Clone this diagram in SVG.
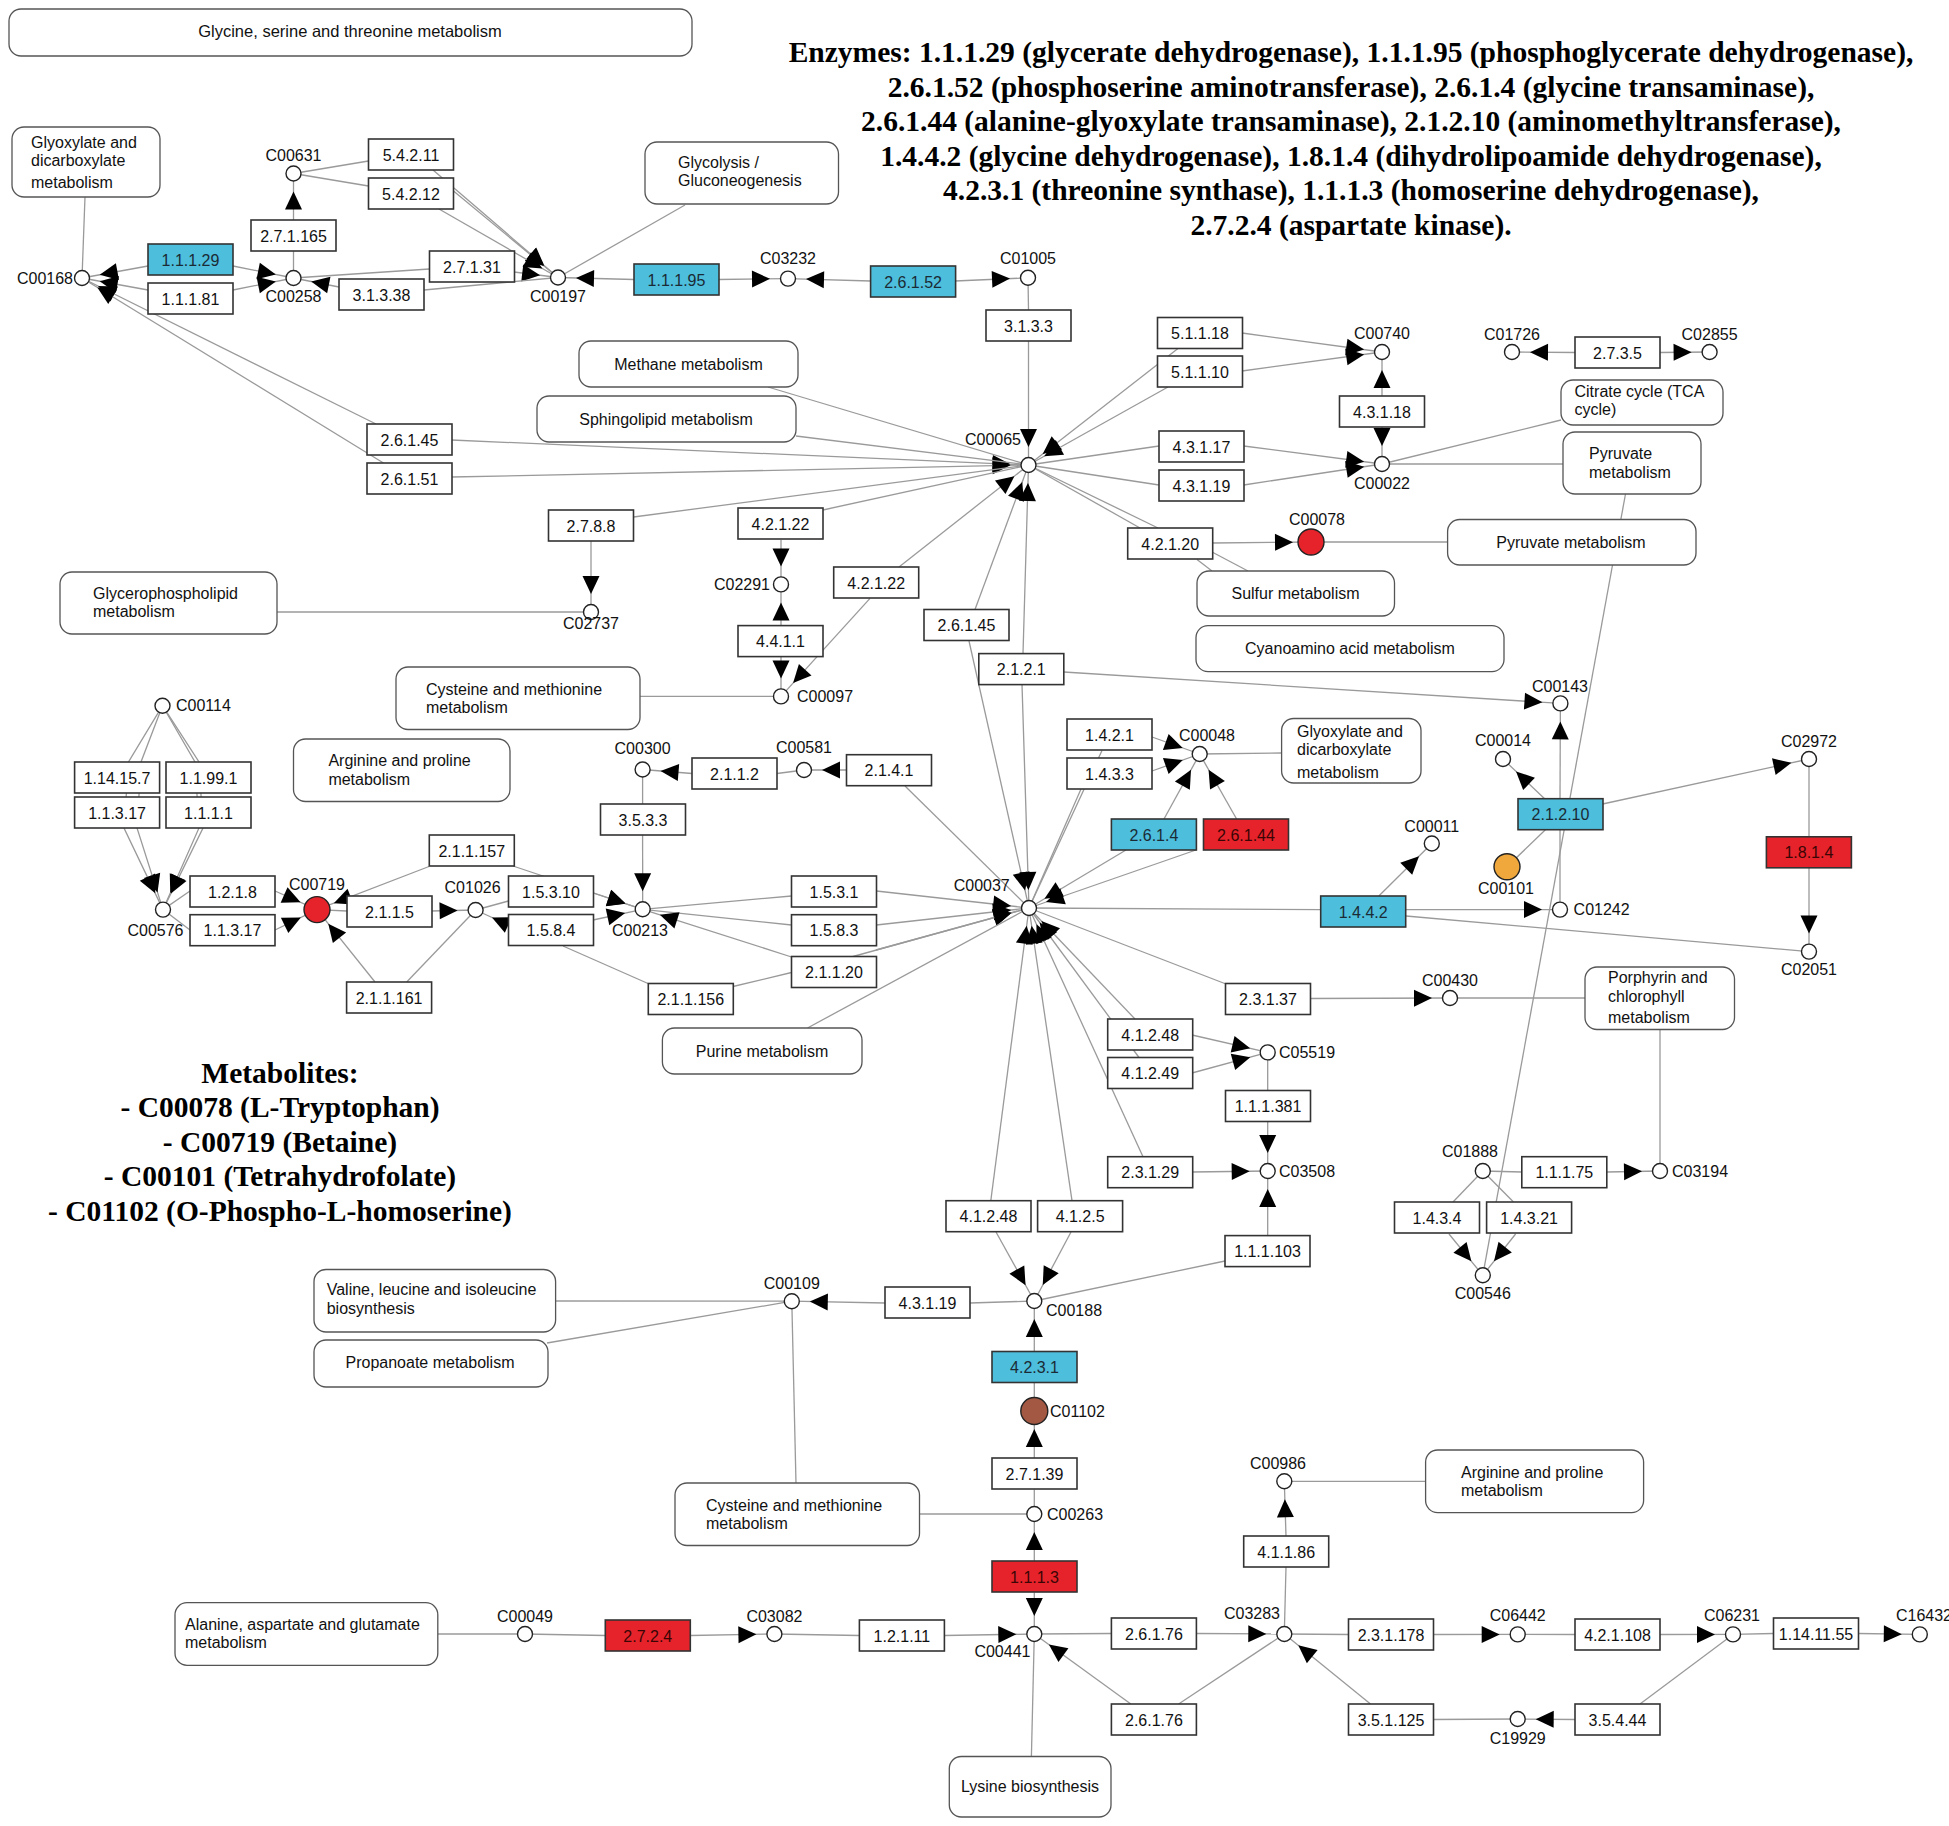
<svg xmlns="http://www.w3.org/2000/svg" width="1949" height="1826" viewBox="0 0 1949 1826">
<defs>
<style>
.e rect{fill:#fff;stroke:#333;stroke-width:1.6}
.e.b rect{fill:#4dbedc}
.e.r rect{fill:#e6232a}
.e text{text-anchor:middle}
.e.b text{fill:#1b2b35}
.e.r text{fill:#3a0505}
text{font-family:"Liberation Sans",Arial,sans-serif;font-size:16px;fill:#111}
.cp circle{fill:#fff;stroke:#222;stroke-width:1.4}
.m rect{fill:#fff;stroke:#555;stroke-width:1.3}
.mid{text-anchor:middle}
.end{text-anchor:end}
.c{stroke:#9a9a9a;stroke-width:1.3;fill:none}
.a{marker-end:url(#ah)}
.hd text{font-family:"Liberation Serif","Times New Roman",serif;font-weight:bold;font-size:29.5px;fill:#000;text-anchor:middle}
</style>
<marker id="ah" viewBox="-20 -10 40 20" refX="18" refY="0" markerWidth="40" markerHeight="20" orient="auto" markerUnits="userSpaceOnUse"><path d="M0,0 L-18,-8.5 L-18,8.5 Z" fill="#000"/></marker>
</defs>
<rect x="0" y="0" width="1949" height="1826" fill="#fff"/>

<g id="connectors">
<line class="c" x1="85" y1="197" x2="82" y2="278"/>
<line class="c a" x1="148" y1="266" x2="82" y2="278"/>
<line class="c a" x1="148" y1="290" x2="82" y2="278"/>
<line class="c a" x1="233" y1="266" x2="293.5" y2="278"/>
<line class="c a" x1="233" y1="290" x2="293.5" y2="278"/>
<line class="c a" x1="376" y1="424" x2="82" y2="278"/>
<line class="c a" x1="383.5" y1="463" x2="82" y2="278"/>
<line class="c a" x1="451.5" y1="440" x2="1028.5" y2="465"/>
<line class="c a" x1="451.5" y1="477" x2="1028.5" y2="465"/>
<line class="c" x1="293.5" y1="278" x2="293.5" y2="251"/>
<line class="c a" x1="293.5" y1="220" x2="293.5" y2="173.5"/>
<line class="c" x1="293.5" y1="173.5" x2="368.5" y2="161"/>
<line class="c" x1="293.5" y1="173.5" x2="368.5" y2="186"/>
<line class="c a" x1="433" y1="170" x2="558" y2="277.5"/>
<line class="c a" x1="453.5" y1="191" x2="558" y2="277.5"/>
<line class="c a" x1="439" y1="209" x2="558" y2="277.5"/>
<line class="c" x1="293.5" y1="278" x2="429.5" y2="269"/>
<line class="c a" x1="514" y1="272" x2="558" y2="277.5"/>
<line class="c" x1="558" y1="277.5" x2="424" y2="290"/>
<line class="c a" x1="339" y1="287" x2="293.5" y2="278"/>
<line class="c" x1="685" y1="205" x2="558" y2="277.5"/>
<line class="c a" x1="634" y1="279.5" x2="558" y2="277.5"/>
<line class="c a" x1="718.5" y1="279.5" x2="788" y2="278.6"/>
<line class="c a" x1="870.6" y1="281" x2="788" y2="278.6"/>
<line class="c a" x1="955" y1="281" x2="1028" y2="277.8"/>
<line class="c" x1="1028" y1="277.8" x2="1028.5" y2="310"/>
<line class="c a" x1="1028.5" y1="341" x2="1028.5" y2="465"/>
<line class="c" x1="768" y1="387" x2="1028.5" y2="465"/>
<line class="c" x1="796" y1="436" x2="1028.5" y2="465"/>
<line class="c a" x1="1178" y1="348.5" x2="1028.5" y2="465"/>
<line class="c a" x1="1168" y1="387" x2="1028.5" y2="465"/>
<line class="c a" x1="1242" y1="333" x2="1382" y2="352"/>
<line class="c a" x1="1242" y1="371" x2="1382" y2="352"/>
<line class="c" x1="1028.5" y1="465" x2="1159" y2="446"/>
<line class="c" x1="1028.5" y1="465" x2="1159" y2="485"/>
<line class="c a" x1="1243.7" y1="446" x2="1382" y2="464"/>
<line class="c a" x1="1243.7" y1="485" x2="1382" y2="464"/>
<line class="c a" x1="1382" y1="396" x2="1382" y2="352"/>
<line class="c a" x1="1382" y1="427" x2="1382" y2="464"/>
<line class="c a" x1="1575" y1="352.5" x2="1512" y2="352"/>
<line class="c a" x1="1660" y1="352.5" x2="1709.6" y2="352"/>
<line class="c" x1="1382" y1="464" x2="1561" y2="420"/>
<line class="c" x1="1382" y1="464" x2="1563" y2="464"/>
<line class="c" x1="1625.5" y1="494" x2="1482.8" y2="1275.3"/>
<line class="c" x1="1028.5" y1="465" x2="1140" y2="528"/>
<line class="c" x1="1028.5" y1="465" x2="1158" y2="528"/>
<line class="c a" x1="1212.6" y1="543" x2="1311" y2="542"/>
<line class="c" x1="1311" y1="542" x2="1447.6" y2="542"/>
<line class="c" x1="1197" y1="559.5" x2="1212" y2="571"/>
<line class="c" x1="1212" y1="552" x2="1248" y2="571"/>
<line class="c" x1="633.5" y1="517" x2="1028.5" y2="465"/>
<line class="c a" x1="591" y1="541" x2="591" y2="612"/>
<line class="c" x1="277" y1="612" x2="591" y2="612"/>
<line class="c" x1="823" y1="510" x2="1028.5" y2="465"/>
<line class="c a" x1="781" y1="539.7" x2="781" y2="584.4"/>
<line class="c a" x1="781" y1="625.6" x2="781" y2="584.4"/>
<line class="c a" x1="781" y1="656.7" x2="781" y2="696.4"/>
<line class="c a" x1="899" y1="567" x2="1028.5" y2="465"/>
<line class="c a" x1="870" y1="598.4" x2="781" y2="696.4"/>
<line class="c" x1="781" y1="696.4" x2="640" y2="696.4"/>
<line class="c a" x1="975" y1="609.5" x2="1028.5" y2="465"/>
<line class="c a" x1="969" y1="641" x2="1029" y2="908"/>
<line class="c a" x1="1023" y1="653.6" x2="1028.5" y2="465"/>
<line class="c a" x1="1022" y1="684.7" x2="1029" y2="908"/>
<line class="c a" x1="1063.8" y1="672" x2="1560.4" y2="703.4"/>
<path class="c a" d="M162.5,705.7 L128.5,762 L124,828 L163,909.6"/>
<path class="c a" d="M162.5,705.7 L141,762 L137,828 L163,909.6"/>
<path class="c a" d="M162.5,705.7 L195,762 L199,828 L163,909.6"/>
<path class="c a" d="M162.5,705.7 L199,762 L203,828 L163,909.6"/>
<line class="c" x1="163" y1="909.6" x2="190" y2="891"/>
<line class="c" x1="163" y1="909.6" x2="190" y2="930"/>
<line class="c a" x1="275" y1="891" x2="317" y2="909.6"/>
<line class="c a" x1="275" y1="930" x2="317" y2="909.6"/>
<line class="c" x1="317" y1="909.6" x2="347" y2="911"/>
<line class="c a" x1="431" y1="911" x2="475.6" y2="910"/>
<line class="c" x1="475.6" y1="910" x2="406.7" y2="982"/>
<line class="c a" x1="375" y1="982" x2="317" y2="909.6"/>
<line class="c a" x1="429" y1="866.5" x2="317" y2="909.6"/>
<line class="c a" x1="513" y1="866" x2="642.7" y2="909.3"/>
<line class="c" x1="475.6" y1="910" x2="508.5" y2="901"/>
<line class="c a" x1="593" y1="893" x2="642.7" y2="909.3"/>
<line class="c a" x1="508.5" y1="925" x2="475.6" y2="910"/>
<line class="c a" x1="593" y1="920" x2="642.7" y2="909.3"/>
<line class="c" x1="563" y1="946" x2="648" y2="983.5"/>
<line class="c" x1="733" y1="986.5" x2="791.5" y2="972.5"/>
<line class="c" x1="642.6" y1="769.5" x2="642.6" y2="804.6"/>
<line class="c a" x1="642.6" y1="835" x2="642.7" y2="909.3"/>
<line class="c a" x1="692" y1="773.5" x2="642.6" y2="769.5"/>
<line class="c" x1="804" y1="770" x2="777" y2="773.5"/>
<line class="c a" x1="846.5" y1="770" x2="804" y2="770"/>
<line class="c" x1="905" y1="786" x2="1029" y2="908"/>
<line class="c" x1="791.5" y1="896" x2="642.7" y2="909.3"/>
<line class="c a" x1="876.4" y1="891" x2="1029" y2="908"/>
<line class="c" x1="791.5" y1="925" x2="642.7" y2="909.3"/>
<line class="c a" x1="876.4" y1="925" x2="1029" y2="908"/>
<line class="c a" x1="791.5" y1="957" x2="642.7" y2="909.3"/>
<line class="c a" x1="853" y1="956.5" x2="1029" y2="908"/>
<line class="c a" x1="876" y1="950" x2="1029" y2="908"/>
<line class="c" x1="807.5" y1="1028" x2="1029" y2="908"/>
<line class="c" x1="1081" y1="789" x2="1029" y2="908"/>
<line class="c" x1="1102" y1="750.5" x2="1029" y2="908"/>
<line class="c a" x1="1152" y1="737" x2="1199.7" y2="754"/>
<line class="c a" x1="1152" y1="771" x2="1199.7" y2="754"/>
<line class="c a" x1="1126" y1="850" x2="1029" y2="908"/>
<line class="c a" x1="1164" y1="819" x2="1199.7" y2="754"/>
<line class="c a" x1="1196" y1="850" x2="1029" y2="908"/>
<line class="c a" x1="1236.6" y1="819" x2="1199.7" y2="754"/>
<line class="c" x1="1199.7" y1="754" x2="1281.6" y2="753"/>
<line class="c" x1="1029" y1="908" x2="1320.7" y2="909.6"/>
<line class="c a" x1="1406" y1="909.6" x2="1560" y2="909.6"/>
<line class="c a" x1="1378.8" y1="896" x2="1431.8" y2="843.5"/>
<line class="c" x1="1406" y1="916" x2="1809" y2="951.6"/>
<line class="c" x1="1560" y1="909.6" x2="1560" y2="829.8"/>
<line class="c a" x1="1560" y1="798.7" x2="1560.4" y2="703.4"/>
<line class="c a" x1="1544.6" y1="798.7" x2="1503" y2="759"/>
<line class="c" x1="1507" y1="866.8" x2="1545.4" y2="829.8"/>
<line class="c a" x1="1602.6" y1="804" x2="1809" y2="759"/>
<line class="c" x1="1809" y1="759" x2="1809" y2="836.8"/>
<line class="c a" x1="1809" y1="868" x2="1809" y2="951.6"/>
<line class="c" x1="1029" y1="908" x2="1226" y2="984"/>
<line class="c a" x1="1310" y1="998.5" x2="1450" y2="998"/>
<line class="c" x1="1450" y1="998" x2="1585" y2="998"/>
<line class="c" x1="1660" y1="1029.5" x2="1660" y2="1171"/>
<line class="c a" x1="1135" y1="1019" x2="1029" y2="908"/>
<line class="c a" x1="1139" y1="1057.5" x2="1029" y2="908"/>
<line class="c a" x1="1192" y1="1035" x2="1267.7" y2="1052.4"/>
<line class="c a" x1="1192" y1="1073" x2="1267.7" y2="1052.4"/>
<line class="c" x1="1267.7" y1="1052.4" x2="1267.7" y2="1090.5"/>
<line class="c a" x1="1267.7" y1="1121.3" x2="1267.7" y2="1171"/>
<line class="c a" x1="1143" y1="1156.7" x2="1029" y2="908"/>
<line class="c a" x1="1192" y1="1172" x2="1267.7" y2="1171"/>
<line class="c a" x1="1267.7" y1="1235.6" x2="1267.7" y2="1171"/>
<line class="c" x1="1225" y1="1261" x2="1034.3" y2="1301"/>
<line class="c a" x1="990.8" y1="1200.7" x2="1029" y2="908"/>
<line class="c a" x1="1072" y1="1200.7" x2="1029" y2="908"/>
<line class="c a" x1="996" y1="1232" x2="1034.3" y2="1301"/>
<line class="c a" x1="1071" y1="1232" x2="1034.3" y2="1301"/>
<line class="c" x1="1034.3" y1="1301" x2="970" y2="1303"/>
<line class="c a" x1="885" y1="1303" x2="791.8" y2="1301.2"/>
<line class="c" x1="791.8" y1="1301.2" x2="555.6" y2="1301"/>
<line class="c" x1="791.8" y1="1301.2" x2="547" y2="1343"/>
<line class="c" x1="791.8" y1="1301.2" x2="796" y2="1483"/>
<line class="c a" x1="1034.3" y1="1351.5" x2="1034.3" y2="1301"/>
<line class="c" x1="1034.3" y1="1411" x2="1034.3" y2="1382.5"/>
<line class="c a" x1="1034.3" y1="1458" x2="1034.3" y2="1411"/>
<line class="c" x1="1034.3" y1="1514" x2="1034.3" y2="1489.5"/>
<line class="c" x1="1034.3" y1="1514" x2="919.5" y2="1514"/>
<line class="c a" x1="1034.3" y1="1561" x2="1034.3" y2="1514"/>
<line class="c a" x1="1034.3" y1="1592.5" x2="1034.3" y2="1634"/>
<line class="c" x1="525" y1="1634" x2="437.8" y2="1634"/>
<line class="c" x1="525" y1="1634" x2="605.3" y2="1635.5"/>
<line class="c a" x1="690.6" y1="1635.5" x2="774.4" y2="1634"/>
<line class="c" x1="774.4" y1="1634" x2="859.4" y2="1635.5"/>
<line class="c a" x1="944.4" y1="1635.5" x2="1034.3" y2="1634"/>
<line class="c" x1="1034.3" y1="1634" x2="1111.4" y2="1633.5"/>
<line class="c a" x1="1196.4" y1="1633.5" x2="1284.3" y2="1634"/>
<line class="c" x1="1284.3" y1="1634" x2="1178.6" y2="1704"/>
<line class="c a" x1="1130.8" y1="1704" x2="1034.3" y2="1634"/>
<line class="c" x1="1034.3" y1="1634" x2="1031.4" y2="1756.5"/>
<line class="c" x1="1284.3" y1="1634" x2="1286" y2="1567"/>
<line class="c a" x1="1286" y1="1536" x2="1284.3" y2="1481.3"/>
<line class="c" x1="1284.3" y1="1481.3" x2="1425.6" y2="1481.3"/>
<line class="c" x1="1284.3" y1="1634" x2="1348.5" y2="1634.5"/>
<line class="c a" x1="1433.5" y1="1634.5" x2="1517.7" y2="1634.4"/>
<line class="c" x1="1517.7" y1="1634.4" x2="1575" y2="1634.5"/>
<line class="c a" x1="1660" y1="1634.5" x2="1733" y2="1634.4"/>
<line class="c" x1="1733" y1="1634.4" x2="1773.5" y2="1633.5"/>
<line class="c a" x1="1858.5" y1="1633.5" x2="1919.8" y2="1634.4"/>
<line class="c" x1="1733" y1="1634.4" x2="1640" y2="1704"/>
<line class="c a" x1="1575" y1="1719.5" x2="1517.7" y2="1719"/>
<line class="c" x1="1517.7" y1="1719" x2="1433.5" y2="1719.5"/>
<line class="c a" x1="1370.5" y1="1704" x2="1284.3" y2="1634"/>
<line class="c" x1="1482.8" y1="1171" x2="1521.8" y2="1172"/>
<line class="c a" x1="1606.8" y1="1172" x2="1660" y2="1171"/>
<line class="c" x1="1482.8" y1="1171" x2="1453" y2="1202"/>
<line class="c" x1="1482.8" y1="1171" x2="1513.5" y2="1202"/>
<line class="c a" x1="1449" y1="1234" x2="1482.8" y2="1275.3"/>
<line class="c a" x1="1515.6" y1="1234" x2="1482.8" y2="1275.3"/>
</g>

<g id="maps">
<g id="M_glycine" class="m"><rect x="9" y="9" width="683" height="47" rx="12"/><text class="mid" x="350" y="36.5" style="font-size:16.5px">Glycine, serine and threonine metabolism</text></g>
<g id="M_glyoxylate1" class="m"><rect x="12" y="127" width="148" height="70" rx="12"/><text x="31" y="147.5">Glyoxylate and</text><text x="31" y="166">dicarboxylate</text><text x="31" y="187.5">metabolism</text></g>
<g id="M_glycolysis" class="m"><rect x="645" y="142" width="193.5" height="62" rx="12"/><text x="678" y="167.5">Glycolysis /</text><text x="678" y="185.5">Gluconeogenesis</text></g>
<g id="M_methane" class="m"><rect x="579" y="341" width="219" height="46" rx="12"/><text class="mid" x="688.5" y="369.5">Methane metabolism</text></g>
<g id="M_sphingolipid" class="m"><rect x="537" y="396" width="259" height="46" rx="12"/><text class="mid" x="666" y="424.5">Sphingolipid metabolism</text></g>
<g id="M_citrate" class="m"><rect x="1561" y="380" width="162" height="45" rx="12"/><text x="1574.5" y="397">Citrate cycle (TCA</text><text x="1574.5" y="415">cycle)</text></g>
<g id="M_pyruvate1" class="m"><rect x="1563" y="432" width="138" height="62" rx="12"/><text x="1589" y="459">Pyruvate</text><text x="1589" y="477.5">metabolism</text></g>
<g id="M_pyruvate2" class="m"><rect x="1447.6" y="519.5" width="248.4" height="45.5" rx="12"/><text class="mid" x="1571" y="547.5">Pyruvate metabolism</text></g>
<g id="M_glycerophospholipid" class="m"><rect x="60" y="572" width="217" height="62" rx="12"/><text x="93" y="598.5">Glycerophospholipid</text><text x="93" y="617">metabolism</text></g>
<g id="M_sulfur" class="m"><rect x="1197" y="571" width="197.5" height="45" rx="12"/><text class="mid" x="1295.5" y="598.5">Sulfur metabolism</text></g>
<g id="M_cyanoamino" class="m"><rect x="1196" y="625.6" width="308" height="46" rx="12"/><text class="mid" x="1350" y="653.5">Cyanoamino acid metabolism</text></g>
<g id="M_cysteine1" class="m"><rect x="396" y="667" width="244" height="62.5" rx="12"/><text x="426" y="694.5">Cysteine and methionine</text><text x="426" y="712.5">metabolism</text></g>
<g id="M_arginine1" class="m"><rect x="293.5" y="739" width="216.5" height="62.5" rx="12"/><text x="328.4" y="766">Arginine and proline</text><text x="328.4" y="784.5">metabolism</text></g>
<g id="M_glyoxylate2" class="m"><rect x="1281.6" y="718.5" width="139.4" height="64.5" rx="12"/><text x="1297" y="736.5">Glyoxylate and</text><text x="1297" y="755">dicarboxylate</text><text x="1297" y="777.5">metabolism</text></g>
<g id="M_purine" class="m"><rect x="662.4" y="1028" width="199.6" height="46" rx="12"/><text class="mid" x="762" y="1056.5">Purine metabolism</text></g>
<g id="M_porphyrin" class="m"><rect x="1585" y="967" width="149.5" height="62.5" rx="12"/><text x="1608" y="983">Porphyrin and</text><text x="1608" y="1002">chlorophyll</text><text x="1608" y="1023">metabolism</text></g>
<g id="M_valine" class="m"><rect x="314" y="1269.5" width="241.6" height="62.5" rx="12"/><text x="326.7" y="1295">Valine, leucine and isoleucine</text><text x="326.7" y="1313.5">biosynthesis</text></g>
<g id="M_propanoate" class="m"><rect x="314" y="1340" width="234" height="47" rx="12"/><text class="mid" x="430" y="1367.5">Propanoate metabolism</text></g>
<g id="M_cysteine2" class="m"><rect x="675" y="1483" width="244.5" height="62.5" rx="12"/><text x="706" y="1510.5">Cysteine and methionine</text><text x="706" y="1529">metabolism</text></g>
<g id="M_arginine2" class="m"><rect x="1425.6" y="1450" width="218" height="62.6" rx="12"/><text x="1461" y="1477.5">Arginine and proline</text><text x="1461" y="1495.5">metabolism</text></g>
<g id="M_alanine" class="m"><rect x="175" y="1602.7" width="262.8" height="62.6" rx="12"/><text x="185" y="1629.5">Alanine, aspartate and glutamate</text><text x="185" y="1647.5">metabolism</text></g>
<g id="M_lysine" class="m"><rect x="949.3" y="1756.5" width="161.7" height="60.5" rx="12"/><text class="mid" x="1030" y="1792">Lysine biosynthesis</text></g>
</g>

<g id="enzymes">
<g id="E_1.1.1.29" class="e b"><rect x="148" y="244" width="85" height="31"/><text x="190.5" y="265.5">1.1.1.29</text></g>
<g id="E_1.1.1.81" class="e"><rect x="148" y="283" width="85" height="31"/><text x="190.5" y="304.5">1.1.1.81</text></g>
<g id="E_2.7.1.165" class="e"><rect x="251" y="220" width="85" height="31"/><text x="293.5" y="241.5">2.7.1.165</text></g>
<g id="E_5.4.2.11" class="e"><rect x="368.5" y="139" width="85" height="31"/><text x="411" y="160.5">5.4.2.11</text></g>
<g id="E_5.4.2.12" class="e"><rect x="368.5" y="178" width="85" height="31"/><text x="411" y="199.5">5.4.2.12</text></g>
<g id="E_2.7.1.31" class="e"><rect x="429.5" y="251" width="85" height="31"/><text x="472" y="272.5">2.7.1.31</text></g>
<g id="E_3.1.3.38" class="e"><rect x="339" y="279" width="85" height="31"/><text x="381.5" y="300.5">3.1.3.38</text></g>
<g id="E_1.1.1.95" class="e b"><rect x="634" y="264" width="85" height="31"/><text x="676.5" y="285.5">1.1.1.95</text></g>
<g id="E_2.6.1.52" class="e b"><rect x="870.6" y="266" width="85" height="31"/><text x="913.1" y="287.5">2.6.1.52</text></g>
<g id="E_3.1.3.3" class="e"><rect x="986" y="310" width="85" height="31"/><text x="1028.5" y="331.5">3.1.3.3</text></g>
<g id="E_5.1.1.18" class="e"><rect x="1157.5" y="317.5" width="85" height="31"/><text x="1200" y="339">5.1.1.18</text></g>
<g id="E_5.1.1.10" class="e"><rect x="1157.5" y="356" width="85" height="31"/><text x="1200" y="377.5">5.1.1.10</text></g>
<g id="E_4.3.1.18" class="e"><rect x="1339.5" y="396" width="85" height="31"/><text x="1382" y="417.5">4.3.1.18</text></g>
<g id="E_2.7.3.5" class="e"><rect x="1575" y="337" width="85" height="31"/><text x="1617.5" y="358.5">2.7.3.5</text></g>
<g id="E_2.6.1.45" class="e"><rect x="367" y="424" width="85" height="31"/><text x="409.5" y="445.5">2.6.1.45</text></g>
<g id="E_2.6.1.51" class="e"><rect x="367" y="463" width="85" height="31"/><text x="409.5" y="484.5">2.6.1.51</text></g>
<g id="E_4.3.1.17" class="e"><rect x="1159" y="431" width="85" height="31"/><text x="1201.5" y="452.5">4.3.1.17</text></g>
<g id="E_4.3.1.19" class="e"><rect x="1159" y="470" width="85" height="31"/><text x="1201.5" y="491.5">4.3.1.19</text></g>
<g id="E_2.7.8.8" class="e"><rect x="548.5" y="510" width="85" height="31"/><text x="591" y="531.5">2.7.8.8</text></g>
<g id="E_4.2.1.22" class="e"><rect x="738" y="508" width="85" height="31"/><text x="780.5" y="529.5">4.2.1.22</text></g>
<g id="E_4.2.1.22b" class="e"><rect x="833.7" y="567" width="85" height="31"/><text x="876.2" y="588.5">4.2.1.22</text></g>
<g id="E_4.2.1.20" class="e"><rect x="1127.7" y="528" width="85" height="31"/><text x="1170.2" y="549.5">4.2.1.20</text></g>
<g id="E_4.4.1.1" class="e"><rect x="738" y="625.6" width="85" height="31"/><text x="780.5" y="647.1">4.4.1.1</text></g>
<g id="E_2.6.1.45b" class="e"><rect x="924" y="609.5" width="85" height="31"/><text x="966.5" y="631">2.6.1.45</text></g>
<g id="E_2.1.2.1" class="e"><rect x="978.8" y="653.6" width="85" height="31"/><text x="1021.3" y="675.1">2.1.2.1</text></g>
<g id="E_1.14.15.7" class="e"><rect x="74.6" y="762" width="85" height="31"/><text x="117.1" y="783.5">1.14.15.7</text></g>
<g id="E_1.1.99.1" class="e"><rect x="166" y="762" width="85" height="31"/><text x="208.5" y="783.5">1.1.99.1</text></g>
<g id="E_1.1.3.17" class="e"><rect x="74.6" y="797" width="85" height="31"/><text x="117.1" y="818.5">1.1.3.17</text></g>
<g id="E_1.1.1.1" class="e"><rect x="166" y="797" width="85" height="31"/><text x="208.5" y="818.5">1.1.1.1</text></g>
<g id="E_2.1.1.2" class="e"><rect x="692" y="758" width="85" height="31"/><text x="734.5" y="779.5">2.1.1.2</text></g>
<g id="E_2.1.4.1" class="e"><rect x="846.5" y="754.7" width="85" height="31"/><text x="889" y="776.2">2.1.4.1</text></g>
<g id="E_3.5.3.3" class="e"><rect x="600.5" y="804" width="85" height="31"/><text x="643" y="825.5">3.5.3.3</text></g>
<g id="E_1.4.2.1" class="e"><rect x="1067" y="719" width="85" height="31"/><text x="1109.5" y="740.5">1.4.2.1</text></g>
<g id="E_1.4.3.3" class="e"><rect x="1067" y="758" width="85" height="31"/><text x="1109.5" y="779.5">1.4.3.3</text></g>
<g id="E_2.6.1.4" class="e b"><rect x="1111.4" y="819" width="85" height="31"/><text x="1153.9" y="840.5">2.6.1.4</text></g>
<g id="E_2.6.1.44" class="e r"><rect x="1203.5" y="819" width="85" height="31"/><text x="1246" y="840.5">2.6.1.44</text></g>
<g id="E_2.1.2.10" class="e b"><rect x="1518" y="798.7" width="85" height="31"/><text x="1560.5" y="820.2">2.1.2.10</text></g>
<g id="E_1.8.1.4" class="e r"><rect x="1766.4" y="836.8" width="85" height="31"/><text x="1808.9" y="858.3">1.8.1.4</text></g>
<g id="E_1.2.1.8" class="e"><rect x="190" y="876" width="85" height="31"/><text x="232.5" y="897.5">1.2.1.8</text></g>
<g id="E_1.1.3.17b" class="e"><rect x="190" y="914.7" width="85" height="31"/><text x="232.5" y="936.2">1.1.3.17</text></g>
<g id="E_2.1.1.157" class="e"><rect x="429.3" y="835" width="85" height="31"/><text x="471.8" y="856.5">2.1.1.157</text></g>
<g id="E_2.1.1.5" class="e"><rect x="347" y="896" width="85" height="31"/><text x="389.5" y="917.5">2.1.1.5</text></g>
<g id="E_2.1.1.161" class="e"><rect x="346.6" y="982" width="85" height="31"/><text x="389.1" y="1003.5">2.1.1.161</text></g>
<g id="E_1.5.3.10" class="e"><rect x="508.5" y="876" width="85" height="31"/><text x="551" y="897.5">1.5.3.10</text></g>
<g id="E_1.5.8.4" class="e"><rect x="508.5" y="914.5" width="85" height="31"/><text x="551" y="936">1.5.8.4</text></g>
<g id="E_1.5.3.1" class="e"><rect x="791.5" y="876" width="85" height="31"/><text x="834" y="897.5">1.5.3.1</text></g>
<g id="E_1.5.8.3" class="e"><rect x="791.5" y="914.7" width="85" height="31"/><text x="834" y="936.2">1.5.8.3</text></g>
<g id="E_2.1.1.20" class="e"><rect x="791.5" y="956.5" width="85" height="31"/><text x="834" y="978">2.1.1.20</text></g>
<g id="E_2.1.1.156" class="e"><rect x="648.3" y="983.5" width="85" height="31"/><text x="690.8" y="1005">2.1.1.156</text></g>
<g id="E_1.4.4.2" class="e b"><rect x="1320.7" y="896" width="85" height="31"/><text x="1363.2" y="917.5">1.4.4.2</text></g>
<g id="E_2.3.1.37" class="e"><rect x="1225.5" y="983.5" width="85" height="31"/><text x="1268" y="1005">2.3.1.37</text></g>
<g id="E_4.1.2.48" class="e"><rect x="1107.7" y="1019" width="85" height="31"/><text x="1150.2" y="1040.5">4.1.2.48</text></g>
<g id="E_4.1.2.49" class="e"><rect x="1107.7" y="1057.5" width="85" height="31"/><text x="1150.2" y="1079">4.1.2.49</text></g>
<g id="E_1.1.1.381" class="e"><rect x="1225.5" y="1090.5" width="85" height="31"/><text x="1268" y="1112">1.1.1.381</text></g>
<g id="E_2.3.1.29" class="e"><rect x="1107.7" y="1156.7" width="85" height="31"/><text x="1150.2" y="1178.2">2.3.1.29</text></g>
<g id="E_1.1.1.75" class="e"><rect x="1521.8" y="1156.7" width="85" height="31"/><text x="1564.3" y="1178.2">1.1.1.75</text></g>
<g id="E_1.4.3.4" class="e"><rect x="1394.5" y="1202" width="85" height="31"/><text x="1437" y="1223.5">1.4.3.4</text></g>
<g id="E_1.4.3.21" class="e"><rect x="1486.6" y="1202" width="85" height="31"/><text x="1529.1" y="1223.5">1.4.3.21</text></g>
<g id="E_4.1.2.48b" class="e"><rect x="946" y="1200.7" width="85" height="31"/><text x="988.5" y="1222.2">4.1.2.48</text></g>
<g id="E_4.1.2.5" class="e"><rect x="1037.6" y="1200.7" width="85" height="31"/><text x="1080.1" y="1222.2">4.1.2.5</text></g>
<g id="E_1.1.1.103" class="e"><rect x="1225" y="1235.6" width="85" height="31"/><text x="1267.5" y="1257.1">1.1.1.103</text></g>
<g id="E_4.3.1.19b" class="e"><rect x="885" y="1287" width="85" height="31"/><text x="927.5" y="1308.5">4.3.1.19</text></g>
<g id="E_4.2.3.1" class="e b"><rect x="992" y="1351.5" width="85" height="31"/><text x="1034.5" y="1373">4.2.3.1</text></g>
<g id="E_2.7.1.39" class="e"><rect x="992" y="1458" width="85" height="31"/><text x="1034.5" y="1479.5">2.7.1.39</text></g>
<g id="E_1.1.1.3" class="e r"><rect x="992" y="1561" width="85" height="31"/><text x="1034.5" y="1582.5">1.1.1.3</text></g>
<g id="E_4.1.1.86" class="e"><rect x="1243.7" y="1536" width="85" height="31"/><text x="1286.2" y="1557.5">4.1.1.86</text></g>
<g id="E_2.7.2.4" class="e r"><rect x="605.3" y="1620" width="85" height="31"/><text x="647.8" y="1641.5">2.7.2.4</text></g>
<g id="E_1.2.1.11" class="e"><rect x="859.4" y="1620" width="85" height="31"/><text x="901.9" y="1641.5">1.2.1.11</text></g>
<g id="E_2.6.1.76" class="e"><rect x="1111.4" y="1618" width="85" height="31"/><text x="1153.9" y="1639.5">2.6.1.76</text></g>
<g id="E_2.3.1.178" class="e"><rect x="1348.5" y="1619" width="85" height="31"/><text x="1391" y="1640.5">2.3.1.178</text></g>
<g id="E_4.2.1.108" class="e"><rect x="1575" y="1619" width="85" height="31"/><text x="1617.5" y="1640.5">4.2.1.108</text></g>
<g id="E_1.14.11.55" class="e"><rect x="1773.5" y="1618" width="85" height="31"/><text x="1816" y="1639.5">1.14.11.55</text></g>
<g id="E_2.6.1.76b" class="e"><rect x="1111.4" y="1704" width="85" height="31"/><text x="1153.9" y="1725.5">2.6.1.76</text></g>
<g id="E_3.5.1.125" class="e"><rect x="1348.5" y="1704" width="85" height="31"/><text x="1391" y="1725.5">3.5.1.125</text></g>
<g id="E_3.5.4.44" class="e"><rect x="1575" y="1704" width="85" height="31"/><text x="1617.5" y="1725.5">3.5.4.44</text></g>
</g>

<g id="compounds">
<g id="C00168" class="cp"><circle cx="82" cy="278" r="7.5"/><text class="end" x="73" y="283.5">C00168</text></g>
<g id="C00258" class="cp"><circle cx="293.5" cy="278" r="7.5"/><text class="mid" x="293.5" y="302">C00258</text></g>
<g id="C00631" class="cp"><circle cx="293.5" cy="173.5" r="7.5"/><text class="mid" x="293.5" y="161">C00631</text></g>
<g id="C00197" class="cp"><circle cx="558" cy="277.5" r="7.5"/><text class="mid" x="558" y="302">C00197</text></g>
<g id="C03232" class="cp"><circle cx="788" cy="278.6" r="7.5"/><text class="mid" x="788" y="264">C03232</text></g>
<g id="C01005" class="cp"><circle cx="1028" cy="277.8" r="7.5"/><text class="mid" x="1028" y="264">C01005</text></g>
<g id="C00065" class="cp"><circle cx="1028.5" cy="465" r="7.5"/><text class="end" x="1021" y="445">C00065</text></g>
<g id="C00740" class="cp"><circle cx="1382" cy="352" r="7.5"/><text class="mid" x="1382" y="339">C00740</text></g>
<g id="C00022" class="cp"><circle cx="1382" cy="464" r="7.5"/><text class="mid" x="1382" y="489">C00022</text></g>
<g id="C01726" class="cp"><circle cx="1512" cy="352" r="7.5"/><text class="mid" x="1512" y="339.5">C01726</text></g>
<g id="C02855" class="cp"><circle cx="1709.6" cy="352" r="7.5"/><text class="mid" x="1709.6" y="339.5">C02855</text></g>
<g id="C02737" class="cp"><circle cx="591" cy="612" r="7.5"/><text class="mid" x="591" y="629">C02737</text></g>
<g id="C02291" class="cp"><circle cx="781" cy="584.4" r="7.5"/><text class="end" x="770" y="590">C02291</text></g>
<g id="C00078" class="cp"><circle cx="1311" cy="542" r="13" style="fill:#e6232a"/><text class="mid" x="1317" y="525">C00078</text></g>
<g id="C00114" class="cp"><circle cx="162.5" cy="705.7" r="7.5"/><text x="176" y="711">C00114</text></g>
<g id="C00097" class="cp"><circle cx="781" cy="696.4" r="7.5"/><text x="797" y="702">C00097</text></g>
<g id="C00300" class="cp"><circle cx="642.6" cy="769.5" r="7.5"/><text class="mid" x="642.6" y="753.5">C00300</text></g>
<g id="C00581" class="cp"><circle cx="804" cy="770" r="7.5"/><text class="mid" x="804" y="753">C00581</text></g>
<g id="C00048" class="cp"><circle cx="1199.7" cy="754" r="7.5"/><text class="mid" x="1207" y="741">C00048</text></g>
<g id="C00143" class="cp"><circle cx="1560.4" cy="703.4" r="7.5"/><text class="mid" x="1560" y="692">C00143</text></g>
<g id="C00014" class="cp"><circle cx="1503" cy="759" r="7.5"/><text class="mid" x="1503" y="746">C00014</text></g>
<g id="C02972" class="cp"><circle cx="1809" cy="759" r="7.5"/><text class="mid" x="1809" y="747">C02972</text></g>
<g id="C00011" class="cp"><circle cx="1431.8" cy="843.5" r="7.5"/><text class="mid" x="1431.8" y="831.5">C00011</text></g>
<g id="C00101" class="cp"><circle cx="1507" cy="866.8" r="13" style="fill:#f0a83c"/><text class="mid" x="1506" y="893.5">C00101</text></g>
<g id="C00576" class="cp"><circle cx="163" cy="909.6" r="7.5"/><text class="mid" x="155.5" y="935.5">C00576</text></g>
<g id="C00719" class="cp"><circle cx="317" cy="909.6" r="13" style="fill:#e6232a"/><text class="mid" x="317" y="890">C00719</text></g>
<g id="C01026" class="cp"><circle cx="475.6" cy="910" r="7.5"/><text class="mid" x="472.6" y="893">C01026</text></g>
<g id="C00213" class="cp"><circle cx="642.7" cy="909.3" r="7.5"/><text class="mid" x="640" y="935.5">C00213</text></g>
<g id="C00037" class="cp"><circle cx="1029" cy="908" r="7.5"/><text class="mid" x="981.7" y="890.5">C00037</text></g>
<g id="C01242" class="cp"><circle cx="1560" cy="909.6" r="7.5"/><text x="1573.6" y="915">C01242</text></g>
<g id="C02051" class="cp"><circle cx="1809" cy="951.6" r="7.5"/><text class="mid" x="1809" y="974.5">C02051</text></g>
<g id="C00430" class="cp"><circle cx="1450" cy="998" r="7.5"/><text class="mid" x="1450" y="986">C00430</text></g>
<g id="C05519" class="cp"><circle cx="1267.7" cy="1052.4" r="7.5"/><text x="1279" y="1058">C05519</text></g>
<g id="C03508" class="cp"><circle cx="1267.7" cy="1171" r="7.5"/><text x="1279" y="1176.5">C03508</text></g>
<g id="C01888" class="cp"><circle cx="1482.8" cy="1171" r="7.5"/><text class="mid" x="1470" y="1157">C01888</text></g>
<g id="C03194" class="cp"><circle cx="1660" cy="1171" r="7.5"/><text x="1672" y="1176.5">C03194</text></g>
<g id="C00546" class="cp"><circle cx="1482.8" cy="1275.3" r="7.5"/><text class="mid" x="1482.8" y="1299">C00546</text></g>
<g id="C00188" class="cp"><circle cx="1034.3" cy="1301" r="7.5"/><text x="1046" y="1316">C00188</text></g>
<g id="C00109" class="cp"><circle cx="791.8" cy="1301.2" r="7.5"/><text class="mid" x="791.8" y="1288.5">C00109</text></g>
<g id="C01102" class="cp"><circle cx="1034.3" cy="1411" r="13.5" style="fill:#a25843"/><text x="1050" y="1416.5">C01102</text></g>
<g id="C00263" class="cp"><circle cx="1034.3" cy="1514" r="7.5"/><text x="1047" y="1519.5">C00263</text></g>
<g id="C00441" class="cp"><circle cx="1034.3" cy="1634" r="7.5"/><text class="mid" x="1002.4" y="1656.5">C00441</text></g>
<g id="C03082" class="cp"><circle cx="774.4" cy="1634" r="7.5"/><text class="mid" x="774.4" y="1621.7">C03082</text></g>
<g id="C00049" class="cp"><circle cx="525" cy="1634" r="7.5"/><text class="mid" x="525" y="1621.7">C00049</text></g>
<g id="C03283" class="cp"><circle cx="1284.3" cy="1634" r="7.5"/><text class="mid" x="1252" y="1619">C03283</text></g>
<g id="C00986" class="cp"><circle cx="1284.3" cy="1481.3" r="7.5"/><text class="mid" x="1278" y="1469">C00986</text></g>
<g id="C06442" class="cp"><circle cx="1517.7" cy="1634.4" r="7.5"/><text class="mid" x="1517.7" y="1620.5">C06442</text></g>
<g id="C06231" class="cp"><circle cx="1733" cy="1634.4" r="7.5"/><text class="mid" x="1732" y="1620.5">C06231</text></g>
<g id="C16432" class="cp"><circle cx="1919.8" cy="1634.4" r="7.5"/><text class="mid" x="1924" y="1620.5">C16432</text></g>
<g id="C19929" class="cp"><circle cx="1517.7" cy="1719" r="7.5"/><text class="mid" x="1517.7" y="1743.5">C19929</text></g>
</g>

<g id="enzymes-legend" class="hd">
<text x="1351" y="62">Enzymes: 1.1.1.29 (glycerate dehydrogenase), 1.1.1.95 (phosphoglycerate dehydrogenase),</text>
<text x="1351" y="96.5">2.6.1.52 (phosphoserine aminotransferase), 2.6.1.4 (glycine transaminase),</text>
<text x="1351" y="131">2.6.1.44 (alanine-glyoxylate transaminase), 2.1.2.10 (aminomethyltransferase),</text>
<text x="1351" y="165.5">1.4.4.2 (glycine dehydrogenase), 1.8.1.4 (dihydrolipoamide dehydrogenase),</text>
<text x="1351" y="200">4.2.3.1 (threonine synthase), 1.1.1.3 (homoserine dehydrogenase),</text>
<text x="1351" y="234.5">2.7.2.4 (aspartate kinase).</text>
</g>
<g id="metabolites-legend" class="hd">
<text x="280" y="1082.5">Metabolites:</text>
<text x="280" y="1117">- C00078 (L-Tryptophan)</text>
<text x="280" y="1151.5">- C00719 (Betaine)</text>
<text x="280" y="1186">- C00101 (Tetrahydrofolate)</text>
<text x="280" y="1220.5">- C01102 (O-Phospho-L-homoserine)</text>
</g>
</svg>
